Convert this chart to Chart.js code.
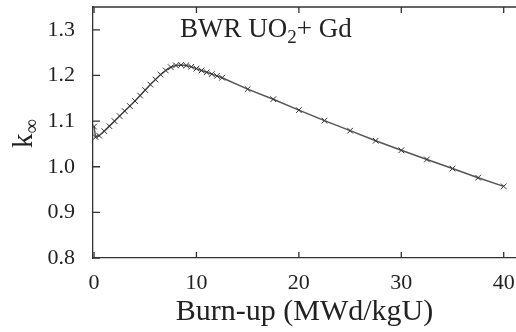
<!DOCTYPE html>
<html>
<head>
<meta charset="utf-8">
<script src="https://cdn.jsdelivr.net/npm/chart.js@4.4.1/dist/chart.umd.min.js"></script>
<style>
  body { margin: 0; background: #fff; }
  #wrap { width: 516px; height: 332px; }
</style>
</head>
<body>
<div id="wrap"><canvas id="myChart"></canvas></div>
<script>
// burn-up steps (MWd/kgU) and k-infinity
const burnup = [0, 0.15, 0.5, 1.0, 1.5, 2.0, 2.5, 3.0, 3.5, 4.0, 4.5, 5.0, 5.5, 6.0, 6.5,
  7.0, 7.5, 8.0, 8.5, 9.0, 9.5, 10.0, 10.5, 11.0, 11.5, 12.0, 12.5,
  15, 17.5, 20, 22.5, 25, 27.5, 30, 32.5, 35, 37.5, 40]
const kinf = [1.088, 1.065, 1.068, 1.078, 1.089, 1.100, 1.111, 1.122, 1.133, 1.144, 1.156, 1.168, 1.180, 1.191, 1.202,
  1.211, 1.218, 1.222, 1.223, 1.222, 1.219, 1.215, 1.211, 1.207, 1.203, 1.199, 1.195,
  1.170, 1.148, 1.124, 1.101, 1.079, 1.057, 1.036, 1.016, 0.996, 0.976, 0.957]
const xTicks = [0, 10, 20, 30, 40]
const yTicks = [0.8, 0.9, 1.0, 1.1, 1.2, 1.3]

const serif = "'Liberation Serif', 'DejaVu Serif', serif"
const ink = '#222'

// inner ticks, top frame line, y label and annotation
const extras = {
  id: 'extras',
  afterDraw(chart) {
    const c = chart.ctx
    const a = chart.chartArea
    const xs = chart.scales.x
    const ys = chart.scales.y
    c.save()
    c.strokeStyle = '#333'
    c.lineWidth = 1.3
    c.beginPath()
    c.moveTo(a.left, a.top)
    c.lineTo(a.right, a.top)
    yTicks.forEach(v => {
      const y = ys.getPixelForValue(v)
      c.moveTo(a.left, y)
      c.lineTo(a.left + 7, y)
    })
    xTicks.forEach(v => {
      const x = xs.getPixelForValue(v)
      c.moveTo(x, a.bottom)
      c.lineTo(x, a.bottom - 6)
      c.moveTo(x, a.top)
      c.lineTo(x, a.top + 6)
    })
    c.stroke()

    c.fillStyle = ink
    // y axis label k∞
    c.translate(32, 148)
    c.rotate(-Math.PI / 2)
    c.textBaseline = 'alphabetic'
    c.textAlign = 'left'
    c.font = '29px ' + serif
    c.fillText('k', 0, 0)
    const kw = c.measureText('k').width
    c.font = '20px ' + serif
    c.fillText('\u221E', kw, 6)
    c.setTransform(1, 0, 0, 1, 0, 0)

    // annotation
    let x = 180
    const base = 37
    c.font = '27px ' + serif
    c.fillText('BWR UO', x, base)
    x += c.measureText('BWR UO').width
    c.font = '19px ' + serif
    c.fillText('2', x, base + 6)
    x += c.measureText('2').width
    c.font = '27px ' + serif
    c.fillText('+ Gd', x, base)
    c.restore()
  }
}

const ctx = document.getElementById('myChart')

const myChart = new Chart(ctx, {
  type: 'line',
  data: {
    datasets: [{
      label: 'k-inf',
      data: burnup.map((b, i) => ({ x: b, y: kinf[i] })),
      borderColor: '#555',
      borderWidth: 1.5,
      pointStyle: 'crossRot',
      pointRadius: 4,
      pointBorderColor: '#333',
      pointBorderWidth: 1,
      tension: 0
    }]
  },
  options: {
    responsive: true,
    maintainAspectRatio: false,
    animation: false,
    layout: {
      autoPadding: false,
      padding: { top: 7, right: 0, left: 0, bottom: 0 }
    },
    plugins: {
      legend: { display: false },
      tooltip: { enabled: false }
    },
    scales: {
      x: {
        type: 'linear',
        min: -0.1,
        max: 41.2,
        afterBuildTicks: s => { s.ticks = xTicks.map(v => ({ value: v })) },
        afterFit: s => {
          s.height = 74
          s.paddingLeft = 0
          s.paddingRight = 0
        },
        grid: { display: false },
        border: { display: true, color: '#333', width: 1.3 },
        ticks: {
          color: ink,
          padding: 4,
          maxRotation: 0,
          font: { family: serif, size: 22 }
        },
        title: {
          display: true,
          text: 'Burn-up (MWd/kgU)',
          color: ink,
          padding: { top: 0, bottom: 2 },
          font: { family: serif, size: 30 }
        }
      },
      y: {
        min: 0.8,
        max: 1.35,
        afterBuildTicks: s => { s.ticks = yTicks.map(v => ({ value: v })) },
        afterFit: s => {
          s.width = 93
          s.paddingTop = 0
          s.paddingBottom = 0
        },
        grid: { display: false },
        border: { display: true, color: '#333', width: 1.3 },
        ticks: {
          color: ink,
          padding: 10,
          font: { family: serif, size: 22 },
          callback: v => v.toFixed(1)
        }
      }
    }
  },
  plugins: [extras]
})
</script>
</body>
</html>
